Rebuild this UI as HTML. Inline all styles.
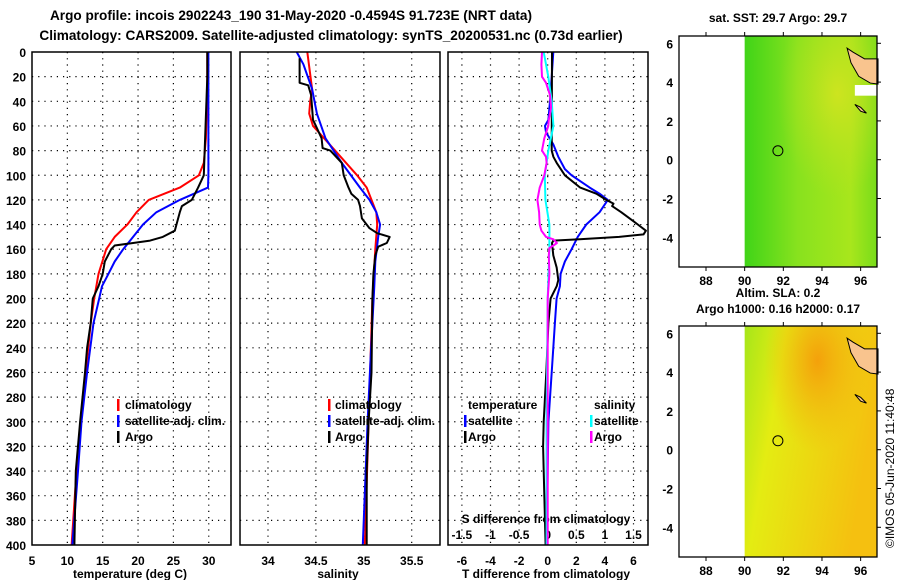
<!DOCTYPE html>
<html><head><meta charset="utf-8"><style>
body{margin:0;background:#fff}
svg{display:block;font-family:"Liberation Sans",sans-serif;font-weight:bold}
text{fill:#000}
</style></head><body>
<svg id="c" width="900" height="580" viewBox="0 0 900 580">
<text x="291" y="20" font-size="13.6" text-anchor="middle">Argo profile: incois 2902243_190 31-May-2020 -0.4594S 91.723E (NRT data)</text>
<text x="331" y="40" font-size="13.6" text-anchor="middle">Climatology: CARS2009. Satellite-adjusted climatology: synTS_20200531.nc (0.73d earlier)</text>
<g id="g"></g>
<text x="778" y="22" font-size="12" text-anchor="middle">sat. SST: 29.7 Argo: 29.7</text>
<text x="778" y="297" font-size="12" text-anchor="middle">Altim. SLA: 0.2</text>
<text x="778" y="313" font-size="12" text-anchor="middle">Argo h1000: 0.16 h2000: 0.17</text>
<text transform="translate(894,548) rotate(-90)" font-size="12" font-weight="normal">©IMOS 05-Jun-2020 11:40:48</text>
</svg>
<script>
// depth grid
const depthTicks=[0,20,40,60,80,100,120,140,160,180,200,220,240,260,280,300,320,340,360,380,400];
// temperature profiles
const tClimD=[0,30,70,90,100,110,120,130,140,150,160,180,200,220,260,300,340,400];
const tClimV=[29.8,29.8,29.6,29.3,28.6,25.9,21.5,19.8,18.5,16.7,15.5,14.4,13.8,13.3,12.6,11.9,11.3,10.6];
const tSatD=[0,100,110,120,130,140,150,160,170,180,190,200,220,260,300,340,400];
const tSatV=[29.95,29.95,29.9,25.9,22.6,20.7,19.3,17.9,16.7,15.8,14.9,14.5,13.7,12.8,12.0,11.5,10.7];
const tArgoD=[0,20,100,110,120,125,130,145,150,153,155,157,160,170,180,190,200,220,240,260,300,340,400];
const tArgoV=[29.8,29.8,29.3,28.5,27.6,26.2,25.9,25.2,23.5,21.7,19.3,16.7,16.2,15.3,15.0,14.4,13.6,13.3,12.8,12.5,11.8,11.2,11.0];
// salinity profiles
const sClimD=[0,30,40,50,60,80,100,110,120,130,140,160,200,300,400];
const sClimV=[34.41,34.46,34.44,34.43,34.47,34.70,34.93,35.03,35.08,35.13,35.14,35.12,35.09,35.05,35.01];
const sSatD=[0,10,30,50,70,90,110,120,130,140,150,170,190,250,300,400];
const sSatV=[34.30,34.37,34.46,34.51,34.60,34.77,34.96,35.06,35.13,35.17,35.15,35.12,35.11,35.07,35.04,34.99];
const sArgoD=[5,25,27,35,55,60,70,78,80,90,100,110,115,120,125,135,143,147,150,155,158,165,180,200,260,300,340,400];
const sArgoV=[34.33,34.33,34.42,34.45,34.47,34.50,34.56,34.57,34.65,34.77,34.79,34.84,34.87,34.94,34.96,34.98,35.06,35.14,35.27,35.24,35.15,35.12,35.10,35.09,35.08,35.05,35.03,35.03];
// differences
const dTSatD=[0,20,40,55,60,65,75,85,95,100,110,115,120,130,140,150,160,170,180,190,200,220,240,260,300,340,400];
const dTSatV=[0.39,0.28,0.16,0.05,-0.19,-0.12,0.39,0.74,1.2,1.67,2.94,3.63,4.2,3.63,2.7,2.1,1.67,1.2,0.9,0.85,0.62,0.5,0.39,0.28,0.05,0.0,-0.07];
const dTArgoD=[0,80,85,90,100,110,115,120,123,125,130,140,145,148,150,152,153,155,165,175,185,190,200,220,260,300,320,340,400];
const dTArgoV=[0.3,0.28,0.4,0.63,1.2,2.27,3.4,4.1,4.6,4.5,5.14,6.3,6.87,6.7,5.0,2.24,0.39,0.3,0.39,0.63,0.74,0.63,0.2,0.05,-0.1,-0.28,-0.32,-0.28,-0.15];
const dSSatD=[0,20,40,60,80,100,120,140,160,200,300,400];
const dSSatV=[-0.07,0.01,0.07,0.1,0.01,-0.05,-0.04,0.03,0.03,0,-0.02,-0.02];
const dSArgoD=[0,10,20,25,35,45,50,55,60,70,80,85,90,100,110,120,130,140,145,150,152,155,157,159,165,180,200,400];
const dSArgoV=[-0.1,-0.11,-0.1,-0.03,0.04,0.06,0.04,0.02,0.01,-0.06,-0.1,-0.03,-0.02,-0.06,-0.14,-0.18,-0.15,-0.14,-0.11,-0.03,0.1,0.16,0.1,0.03,0.02,0.03,0.0,0.0];
const tTicks=[5,10,15,20,25,30];
const sTicks=[34,34.5,35,35.5];
const dTTicks=[-6,-4,-2,0,2,4,6];
const dSTicks=[-1.5,-1,-0.5,0,0.5,1,1.5];
const lonTicks=[88,90,92,94,96];
const latTicks=[6,4,2,0,-2,-4];
const argoLon=91.72, argoLat=0.46;

const NS='http://www.w3.org/2000/svg';
const G=document.getElementById('g');
function mk(tag,at,par){const e=document.createElementNS(NS,tag);for(const k in at)e.setAttribute(k,at[k]);(par||G).appendChild(e);return e;}
const yD=d=>52+d*1.2325;
const xT=t=>32+(t-5)*7.07;
const xS=s=>268+(s-34)*95.8;
const xDT=t=>547.7+t*14.3;
const xDS=s=>547.7+s*57.2;

function panel(x0,x1,name){
  const g=mk('g',{});
  
  
  return g;
}
function frame(g,x0,x1){
  const r=mk('rect',{x:x0,y:52,width:x1-x0,height:493,fill:'none',stroke:'#000','stroke-width':1.5},g);
  
  
}
function hgrid(g,x0,x1){
  depthTicks.forEach(d=>{if(d>0&&d<400){const l=mk('line',{x1:x0,x2:x1,y1:yD(d),y2:yD(d),stroke:'#000','stroke-dasharray':'1.2,5','stroke-width':1.2},g);
  
  }});
}
function vgrid(g,xs){xs.forEach(x=>{const l=mk('line',{x1:x,x2:x,y1:52,y2:545,stroke:'#000','stroke-dasharray':'1.2,5','stroke-width':1.2},g);
  
  });}
function line(g,D,V,fx,col,name,w){
  const p=mk('polyline',{points:D.map((d,i)=>fx(V[i]).toFixed(1)+','+yD(d).toFixed(1)).join(' '),fill:'none',stroke:col,'stroke-width':w||2,'stroke-linejoin':'round'},g);
  
  
}
function txt(g,x,y,s,t,anchor,name){
  const e=mk('text',{x:x,y:y,'font-size':s,'text-anchor':anchor||'start'},g);
  e.textContent=t;
  
  
  return e;
}
function legMark(g,x,y,col){const r=mk('rect',{x:x,y:y,width:2.5,height:12,fill:col},g);
  
  }

// Panel 1: temperature
let g1=panel(32,231,'temperature-panel');
hgrid(g1,32,231);vgrid(g1,tTicks.slice(1).map(xT));
depthTicks.forEach(d=>txt(g1,26,yD(d)+5,12,String(d),'end','depth-tick-label'));
tTicks.forEach(t=>txt(g1,xT(t),565,12,String(t),'middle','temperature-tick-label'));
txt(g1,130,578,12,'temperature (deg C)','middle','temperature-axis-title');
line(g1,tClimD,tClimV,xT,'#f00','temperature-climatology-line');
line(g1,tSatD,tSatV,xT,'#00f','temperature-satellite-line');
line(g1,tArgoD,tArgoV,xT,'#000','temperature-argo-line');
frame(g1,32,231);
[['#f00','climatology',409],['#00f','satellite-adj. clim.',425],['#000','Argo',441]].forEach(a=>{legMark(g1,117,a[2]-10,a[0]);txt(g1,125,a[2],12,a[1],'start','temperature-legend-entry');});

// Panel 2: salinity
let g2=panel(240,440,'salinity-panel');
hgrid(g2,240,440);vgrid(g2,sTicks.map(xS));
sTicks.forEach(t=>txt(g2,xS(t),565,12,String(t),'middle','salinity-tick-label'));
txt(g2,338,578,12,'salinity','middle','salinity-axis-title');
line(g2,sClimD,sClimV,xS,'#f00','salinity-climatology-line');
line(g2,sSatD,sSatV,xS,'#00f','salinity-satellite-line');
line(g2,sArgoD,sArgoV,xS,'#000','salinity-argo-line');
frame(g2,240,440);
[['#f00','climatology',409],['#00f','satellite-adj. clim.',425],['#000','Argo',441]].forEach(a=>{legMark(g2,328,a[2]-10,a[0]);txt(g2,335,a[2],12,a[1],'start','salinity-legend-entry');});

// Panel 3: differences
let g3=panel(448,648,'difference-panel');
hgrid(g3,448,648);vgrid(g3,dTTicks.map(xDT));
dTTicks.forEach(t=>txt(g3,xDT(t),565,12,String(t),'middle','t-diff-tick-label'));
dSTicks.forEach(t=>txt(g3,xDS(t),539,12,String(t),'middle','s-diff-tick-label'));
txt(g3,546,523,12,'S difference from climatology','middle','s-diff-axis-title');
txt(g3,546,578,12,'T difference from climatology','middle','t-diff-axis-title');
line(g3,dTSatD,dTSatV,xDT,'#00f','t-diff-satellite-line');
line(g3,dTArgoD,dTArgoV,xDT,'#000','t-diff-argo-line');
line(g3,dSSatD,dSSatV,xDS,'#0ff','s-diff-satellite-line');
line(g3,dSArgoD,dSArgoV,xDS,'#f0f','s-diff-argo-line');
frame(g3,448,648);
txt(g3,468,409,12,'temperature','start','legend-title-temperature');
txt(g3,594,409,12,'salinity','start','legend-title-salinity');
legMark(g3,464,415,'#00f');txt(g3,468,425,12,'satellite','start','legend-t-satellite');
legMark(g3,464,431,'#000');txt(g3,468,441,12,'Argo','start','legend-t-argo');
legMark(g3,590,415,'#0ff');txt(g3,594,425,12,'satellite','start','legend-s-satellite');
legMark(g3,590,431,'#f0f');txt(g3,594,441,12,'Argo','start','legend-s-argo');

// Maps
const xL=lon=>706+(lon-88)*19.33;
function map(top,name,fillDef,kind){
  const g=panel(0,0,name);
  const yLat=lat=>top+7.3+(6-lat)*19.4;
  const defs=mk('defs',{},g);
  defs.innerHTML=fillDef;
  mk('rect',{x:679,y:top,width:198,height:231,fill:'#fff'},g);
  const f=mk('rect',{x:xL(90),y:top,width:877-xL(90),height:231,fill:'url(#'+kind+'a)'},g);
  
  
  mk('rect',{x:xL(90),y:top,width:877-xL(90),height:231,fill:'url(#'+kind+'b)'},g);
  const land=mk('path',{d:`M${xL(95.3)},${yLat(5.75)} L${xL(95.6)},${yLat(5.55)} L${xL(96.2)},${yLat(5.2)} L${xL(96.9)},${yLat(5.2)} L${xL(96.9)},${yLat(3.9)} L${xL(96.5)},${yLat(3.95)} L${xL(95.9)},${yLat(4.3)} L${xL(95.5)},${yLat(5.0)} Z`,fill:'#f9c48e',stroke:'#000','stroke-width':1},g);
  
  
  const isl=mk('path',{d:`M${xL(95.7)},${yLat(2.85)} L${xL(96.0)},${yLat(2.7)} L${xL(96.3)},${yLat(2.4)} L${xL(96.0)},${yLat(2.5)} Z`,fill:'#f9c48e',stroke:'#000','stroke-width':1},g);
  
  
  if(kind==='sst'){mk('rect',{x:xL(95.7),y:yLat(3.85),width:877-xL(95.7),height:yLat(3.3)-yLat(3.85),fill:'#fff'},g);}
  const c=mk('circle',{cx:xL(argoLon),cy:yLat(argoLat),r:5,fill:'none',stroke:'#000','stroke-width':1},g);
  
  
  const fr=mk('rect',{x:679,y:top,width:198,height:231,fill:'none',stroke:'#000','stroke-width':1.3},g);
  
  
  lonTicks.forEach(l=>{mk('line',{x1:xL(l),x2:xL(l),y1:top+231,y2:top+235,stroke:'#000'},g);mk('line',{x1:xL(l),x2:xL(l),y1:top,y2:top-4,stroke:'#000'},g);txt(g,xL(l),top+249,12,String(l),'middle','longitude-tick-label');});
  latTicks.forEach(l=>{mk('line',{x1:877,x2:881,y1:yLat(l),y2:yLat(l),stroke:'#000'},g);txt(g,673,yLat(l)+5,12,String(l),'end','latitude-tick-label');});
}
map(36,'sst-map',
 '<linearGradient id="ssta" x1="0" y1="0" x2="1" y2="0"><stop offset="0" stop-color="#40d418"/><stop offset="0.4" stop-color="#88e21e"/><stop offset="0.8" stop-color="#a8e61c"/><stop offset="1" stop-color="#78dc1a"/></linearGradient><radialGradient id="sstb" cx="0.7" cy="0.25" r="0.45"><stop offset="0" stop-color="#d8e420" stop-opacity="0.8"/><stop offset="1" stop-color="#c0e020" stop-opacity="0"/></radialGradient>','sst');
map(326,'sla-map',
 '<linearGradient id="slaa" x1="0" y1="0" x2="1" y2="0.3"><stop offset="0" stop-color="#a6e61a"/><stop offset="0.3" stop-color="#e4ec12"/><stop offset="1" stop-color="#f5c010"/></linearGradient><radialGradient id="slab" cx="0.55" cy="0.15" r="0.4"><stop offset="0" stop-color="#f59a0a" stop-opacity="0.9"/><stop offset="1" stop-color="#f5b010" stop-opacity="0"/></radialGradient>','sla');
</script>
</body></html>
